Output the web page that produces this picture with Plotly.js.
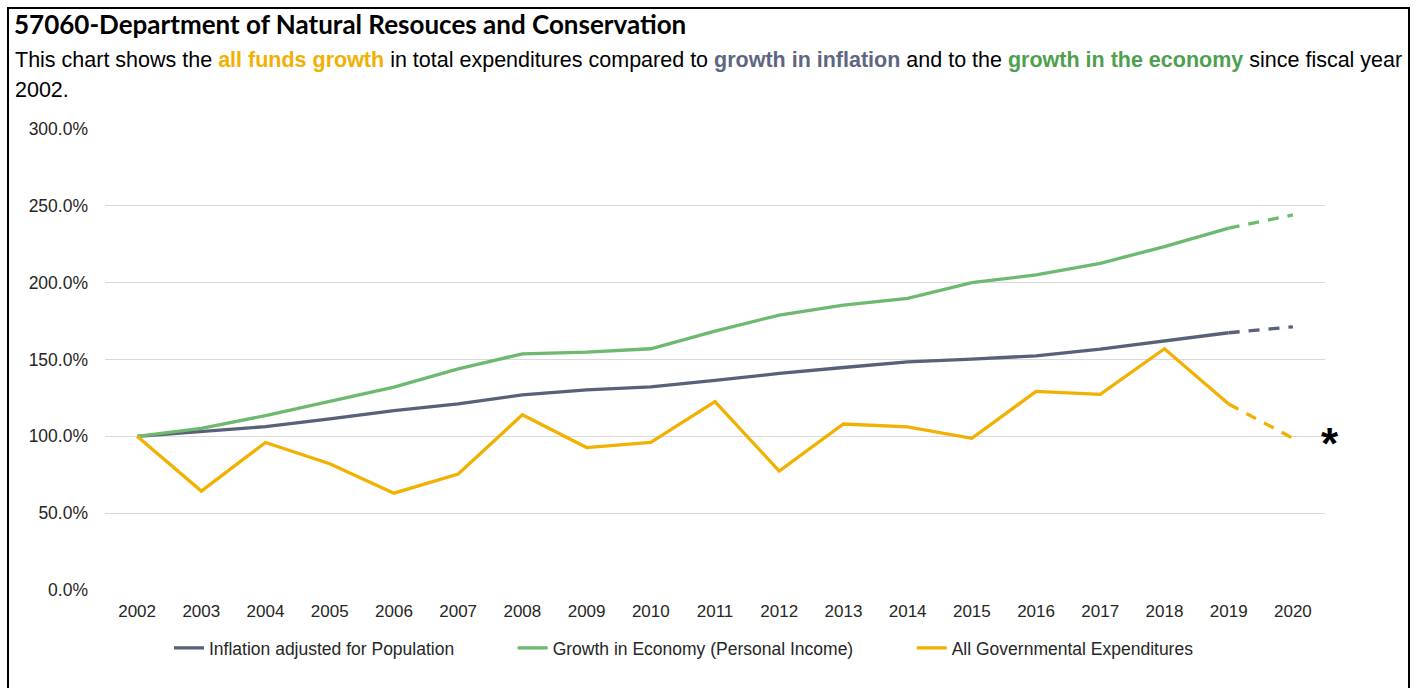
<!DOCTYPE html>
<html>
<head>
<meta charset="utf-8">
<script src="https://cdn.plot.ly/plotly-3.0.1.min.js"></script>
<style>
  html, body { margin: 0; padding: 0; background: #fff; }
  #chart { width: 1422px; height: 688px; }
</style>
</head>
<body>
<div id="chart"></div>
<script>
// ---- data ----
const years = ['2002','2003','2004','2005','2006','2007','2008','2009','2010','2011',
               '2012','2013','2014','2015','2016','2017','2018','2019','2020'];
const inflation = [100, 103.3, 106.3, 111.3, 116.7, 121.1, 127.0, 130.2, 132.2, 136.4,
                   140.9, 144.8, 148.5, 150.2, 152.4, 156.7, 162.2, 167.4, 171.3];
const economy = [100, 105.2, 113.5, 122.6, 132.0, 143.9, 153.7, 154.8, 157.0, 168.5,
                 178.9, 185.4, 189.8, 200.0, 205.0, 212.6, 223.5, 235.5, 244.1];
const expenditures = [100, 64.4, 96.0, 82.2, 63.0, 75.5, 114.0, 92.7, 96.0, 122.6,
                      77.4, 108.0, 106.2, 98.7, 129.2, 127.3, 157.0, 121.0, 98.7];
const seriesNames = ['Inflation adjusted for Population', 'Growth in Economy (Personal Income)', 'All Governmental Expenditures'];
const yTicks = [0, 50, 100, 150, 200, 250, 300];

// ---- styles ----
const colors = ['#596079', '#6cb96f', '#f2b000'];
const W = 1422, H = 688;
const L = 105, R = 1325, T = 129, B = 590;
const px = x => (x - L) / (R - L);
const py = y => (B - y) / (B - T);
const nb = k => '\u00A0'.repeat(k);
const legendLabels = [seriesNames[0] + nb(11), seriesNames[1] + nb(11), seriesNames[2]];

const series = [inflation, economy, expenditures];
const n = years.length;
const traces = [];
series.forEach((vals, i) => {
  traces.push({
    x: years.slice(0, n - 1), y: vals.slice(0, n - 1),
    type: 'scatter', mode: 'lines', name: legendLabels[i],
    line: {color: colors[i], width: 3.3},
    hoverinfo: 'skip', showlegend: true
  });
});
series.forEach((vals, i) => {
  traces.push({
    x: years.slice(n - 2), y: vals.slice(n - 2),
    type: 'scatter', mode: 'lines', name: seriesNames[i],
    line: {color: colors[i], width: 3.3, dash: '11px,9px'},
    hoverinfo: 'skip', showlegend: false
  });
});

const baseFont = 'Liberation Sans, Arial, sans-serif';

const layout = {
  width: W, height: H,
  margin: {l: L, r: W - R, t: T, b: H - B, pad: 0},
  paper_bgcolor: '#ffffff', plot_bgcolor: '#ffffff',
  font: {family: baseFont, size: 17.5, color: '#262626'},
  title: {
    text: '<b>57060-Department of Natural Resouces and Conservation</b>',
    font: {family: 'Lato, Carlito, sans-serif', size: 26, color: '#000'},
    x: 14 / W, xref: 'container', xanchor: 'left',
    y: 1 - 25 / H, yref: 'container', yanchor: 'middle'
  },
  xaxis: {
    type: 'category', range: [-0.5, n - 0.5],
    showgrid: false, zeroline: false, showline: false, ticks: '',
    tickfont: {family: baseFont, size: 17, color: '#262626'},
    ticklabelstandoff: 9, fixedrange: true
  },
  yaxis: {
    range: [0, 300], tickvals: yTicks,
    ticktext: yTicks.map(v => v.toFixed(1) + '%'),
    showgrid: true, gridcolor: '#d9d9d9', gridwidth: 1.3,
    zeroline: false, showline: false, ticks: '',
    tickfont: {family: baseFont, size: 17.5, color: '#262626'},
    ticklabelstandoff: 16, fixedrange: true
  },
  showlegend: true,
  legend: {
    orientation: 'h', x: px(684), xanchor: 'center',
    y: py(648), yanchor: 'middle',
    font: {family: baseFont, size: 17.5, color: '#262626'},
    bgcolor: 'rgba(0,0,0,0)', traceorder: 'normal'
  },
  annotations: [
    {
      xref: 'paper', yref: 'paper', x: px(13), y: py(60),
      xanchor: 'left', yanchor: 'middle', showarrow: false, align: 'left',
      font: {family: baseFont, size: 21.5, color: '#000'},
      text: 'This chart shows the <b><span style="color:#f2b000">all funds growth</span></b> in total expenditures compared to ' +
            '<b><span style="color:#5e6680">growth in inflation</span></b> and to the ' +
            '<b><span style="color:#4f9f4f">growth in the economy</span></b> since fiscal year'
    },
    {
      xref: 'paper', yref: 'paper', x: px(13), y: py(90),
      xanchor: 'left', yanchor: 'middle', showarrow: false, align: 'left',
      font: {family: baseFont, size: 21.5, color: '#000'},
      text: '2002.'
    },
    {
      xref: 'paper', yref: 'paper', x: px(1330), y: py(443),
      xanchor: 'center', yanchor: 'middle', showarrow: false,
      font: {family: baseFont, size: 44, color: '#000'},
      text: '<b>*</b>'
    }
  ],
  shapes: [
    {
      type: 'rect', xref: 'paper', yref: 'paper',
      x0: px(8), x1: px(1409), y0: py(700), y1: py(8),
      line: {color: '#000', width: 2}, fillcolor: 'rgba(0,0,0,0)', layer: 'above'
    }
  ]
};

Plotly.newPlot('chart', traces, layout, {displayModeBar: false, staticPlot: true});
</script>
</body>
</html>
